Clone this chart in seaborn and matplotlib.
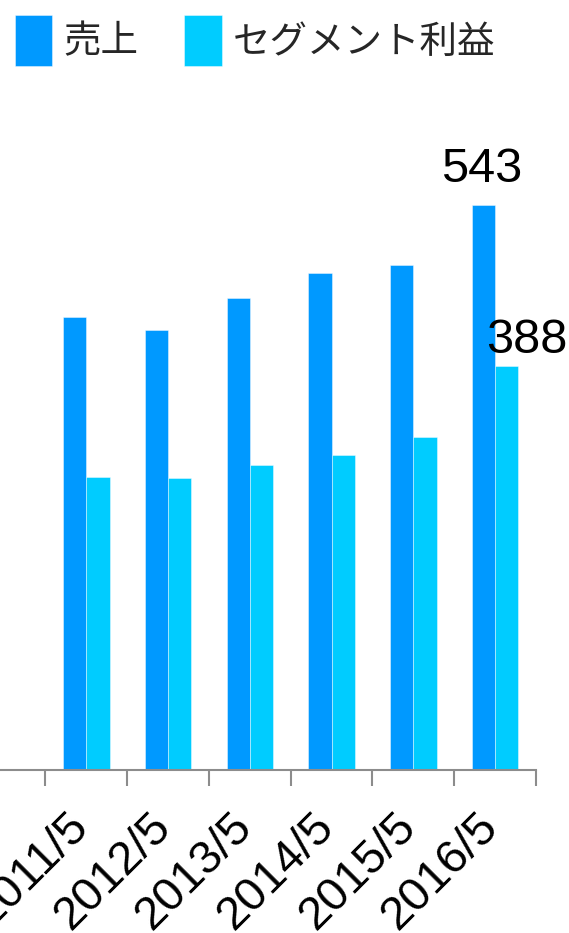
import matplotlib
matplotlib.use("Agg")
import matplotlib.pyplot as plt
import matplotlib.transforms as mtransforms
import seaborn as sns
import pandas as pd
import numpy as np

years = ["2011/5", "2012/5", "2013/5", "2014/5", "2015/5", "2016/5"]
sales = [436, 423, 454, 478, 486, 543]
profit = [282, 281, 293, 303, 320, 388]
series_names = ["売上", "セグメント利益"]
colors = ["#0099FF", "#00CCFF"]

sns.set_theme(style="white")
plt.rcParams["font.family"] = ["Liberation Sans", "Noto Sans CJK JP"]

df = pd.DataFrame({
    "year": years * 2,
    "value": sales + profit,
    "series": [series_names[0]] * len(years) + [series_names[1]] * len(years),
})

W, H = 569, 933
fig = plt.figure(figsize=(W / 100, H / 100), dpi=100)
ax = fig.add_axes([0, (H - 770) / H, 536 / W, 624 / H])

sns.barplot(data=df, x="year", y="value", hue="series", palette=colors,
            width=0.57, gap=0, ax=ax, edgecolor=(1, 1, 1, 0.5), linewidth=0.6,
            saturation=1)

ax.set_ylim(0, 600)
ax.set_xlim(-1.055, 5.5)
ax.set_xlabel("")
ax.set_ylabel("")
ax.set_yticks([])
for s in ["top", "left", "right"]:
    ax.spines[s].set_visible(False)
ax.spines["bottom"].set_color("#8c8c8c")
ax.spines["bottom"].set_linewidth(1.5)

# tick marks at category boundaries, labels at centers
ax.set_xticks(np.arange(len(years)))
ax.set_xticklabels(years, rotation=45, ha="right", va="center",
                   rotation_mode="anchor", fontsize=34, color="black")
ax.set_xticks(np.arange(len(years) + 1) - 0.5, minor=True)
ax.tick_params(axis="x", which="major", length=0, pad=36)
ax.tick_params(axis="x", which="minor", length=11.5, width=1.5,
               color="#8c8c8c", bottom=True)
shift = mtransforms.ScaledTranslation(-4 / 100, 0, fig.dpi_scale_trans)
for lab in ax.get_xticklabels():
    lab.set_transform(lab.get_transform() + shift)

# data labels on the last period
last = len(years) - 1
ax.annotate(str(sales[last]), xy=(last - 0.1425, sales[last]),
            xytext=(-1.5, 17), textcoords="offset points",
            ha="center", va="baseline", fontsize=35, color="black")
ax.annotate(str(profit[last]), xy=(last + 0.1425, profit[last]),
            xytext=(14.5, 10), textcoords="offset points",
            ha="center", va="baseline", fontsize=35, color="black")

handles, labels = ax.get_legend_handles_labels()
if ax.get_legend() is not None:
    ax.get_legend().remove()
fig.legend(handles, labels, loc="upper left",
           bbox_to_anchor=(14.6 / W, 1 - 14.6 / H), borderaxespad=0,
           borderpad=0, frameon=False, ncol=2, fontsize=27,
           handlelength=1.0, handleheight=1.74, handletextpad=0.3,
           columnspacing=1.22)

fig.savefig("out.png", dpi=100)
